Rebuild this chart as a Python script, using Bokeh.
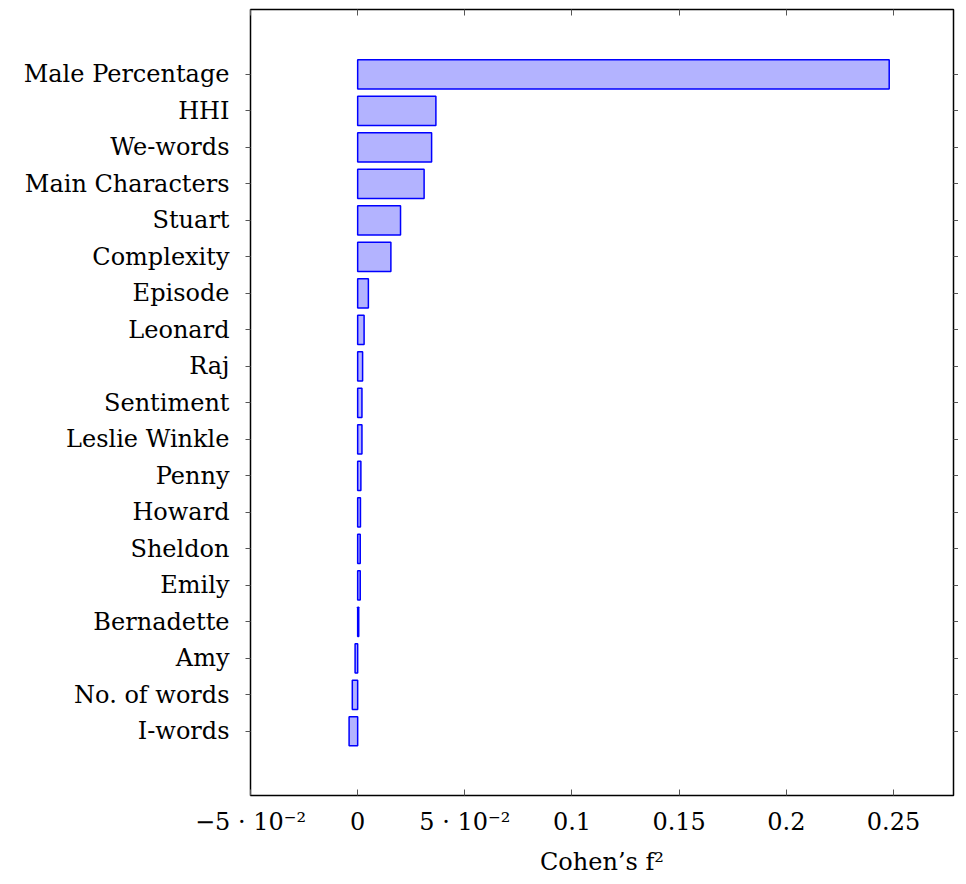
from bokeh.plotting import figure
from bokeh.models import ColumnDataSource, FixedTicker, LinearAxis, Range1d
from bokeh.embed import file_html
from bokeh.resources import INLINE

categories = ["Male Percentage", "HHI", "We-words", "Main Characters", "Stuart",
              "Complexity", "Episode", "Leonard", "Raj", "Sentiment",
              "Leslie Winkle", "Penny", "Howard", "Sheldon", "Emily",
              "Bernadette", "Amy", "No. of words", "I-words"]
values = [0.248, 0.0365, 0.0345, 0.031, 0.020, 0.0155, 0.005, 0.003, 0.0023,
          0.002, 0.002, 0.0015, 0.0013, 0.0012, 0.0012, 0.0005, -0.0012,
          -0.0025, -0.004]
x_ticks = [-0.05, 0.0, 0.05, 0.1, 0.15, 0.2, 0.25]
x_tick_labels = ["\u22125 \u00b7 10\u207b\u00b2", "0", "5 \u00b7 10\u207b\u00b2",
                 "0.1", "0.15", "0.2", "0.25"]
x_label = "Cohen\u2019s f\u00b2"

n = len(categories)
ypos = [n - 1 - i for i in range(n)]
src = ColumnDataSource(dict(y=ypos, right=values, left=[0.0] * n, name=categories))

FONT = "DejaVu Serif"
FS = "24px"

p = figure(output_backend="svg", toolbar_location=None,
           frame_width=703, frame_height=786,
           x_range=Range1d(-0.05, 0.278), y_range=Range1d(-1.76, n - 1 + 1.78),
           min_border_left=250, min_border_right=5, min_border_top=9,
           min_border_bottom=78)
p.hbar(y="y", left="left", right="right", height=0.8, source=src,
       fill_color="#b3b3ff", line_color="#0000ff", line_width=1.5)

p.xgrid.visible = False
p.ygrid.visible = False
p.outline_line_color = "black"
p.outline_line_width = 1.5
p.background_fill_color = "white"
p.border_fill_color = "white"

xa = p.xaxis[0]
xa.ticker = FixedTicker(ticks=x_ticks)
xa.major_label_overrides = {t: l for t, l in zip(x_ticks, x_tick_labels)}
xa.major_tick_in = 6
xa.major_tick_out = 0
xa.minor_tick_line_color = None
xa.axis_line_color = None
xa.major_tick_line_color = "#555555"
xa.major_label_text_font = FONT
xa.major_label_text_font_size = FS
xa.major_label_text_color = "black"
xa.major_label_standoff = 12
xa.axis_label = x_label
xa.axis_label_text_font = FONT
xa.axis_label_text_font_style = "normal"
xa.axis_label_text_font_size = FS
xa.axis_label_text_color = "black"
xa.axis_label_standoff = 9

ya = p.yaxis[0]
ya.ticker = FixedTicker(ticks=ypos)
ya.major_label_overrides = {y: c for y, c in zip(ypos, categories)}
ya.major_tick_in = 0
ya.major_tick_out = 5
ya.minor_tick_line_color = None
ya.axis_line_color = None
ya.major_tick_line_color = "#555555"
ya.major_label_text_font = FONT
ya.major_label_text_font_size = FS
ya.major_label_text_color = "black"
ya.major_label_standoff = 16

top = LinearAxis(ticker=FixedTicker(ticks=x_ticks), major_tick_in=6, major_tick_out=0,
                 minor_tick_line_color=None, axis_line_color=None,
                 major_tick_line_color="#555555",
                 major_label_overrides={t: "" for t in x_ticks},
                 major_label_standoff=0)
p.add_layout(top, "above")
right = LinearAxis(ticker=FixedTicker(ticks=ypos), major_tick_in=0, major_tick_out=5,
                   minor_tick_line_color=None, axis_line_color=None,
                   major_tick_line_color="#555555",
                   major_label_overrides={y: "" for y in ypos},
                   major_label_standoff=0)
p.add_layout(right, "right")

open("out.html", "w").write(file_html(p, INLINE))
